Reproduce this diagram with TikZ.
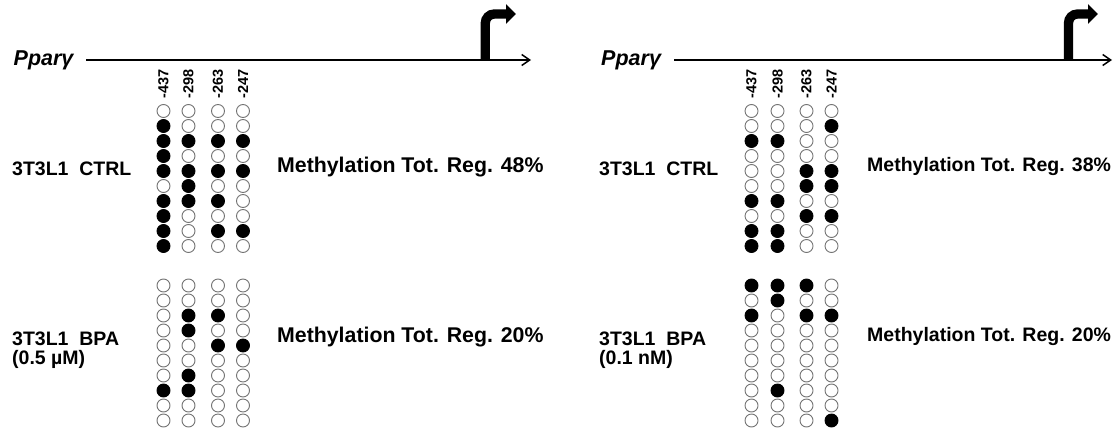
\documentclass[tikz,border=0pt]{standalone}
\usepackage{fontspec}
\setmainfont{Liberation Sans}
\usetikzlibrary{arrows.meta}

% one column of CpG sites, 1 = methylated
\newcommand{\cpgcolumn}[4]{%
  \foreach \m [count=\i] in {#4} {%
    \ifnum\m=1
      \node [metcpg] (#1-\i) at (#2,#3+15*\i-15) {};
    \else
      \node [uncpg] (#1-\i) at (#2,#3+15*\i-15) {};
    \fi
  }}

\begin{document}
\begin{tikzpicture}[x=1pt,y=-1pt]
            \tikzstyle{every node}=[font=\fontsize{19.5}{19}\selectfont\bfseries, inner sep=0pt]
            \tikzstyle{gname}=[anchor=base west, font=\fontsize{21.5}{21}\selectfont\bfseries\itshape]
            \tikzstyle{metleft}=[anchor=base west, font=\fontsize{21.3}{21}\selectfont\bfseries]
            \tikzstyle{site}=[font=\fontsize{14.5}{14}\selectfont\bfseries, rotate=90, anchor=west]
            \tikzstyle{uncpg}=[circle, minimum size=13pt, draw=black!55, line width=0.9pt, fill=white]
            \tikzstyle{metcpg}=[uncpg, draw=black, fill=black]
            \tikzstyle{gene}=[line width=1.5pt, -{Straight Barb[length=8pt,width=11pt]}]
            \tikzstyle{tss}=[line width=9.3pt, rounded corners=9pt, -{Triangle[length=10pt,width=19pt]}]
            \useasboundingbox (0,0) rectangle (1118,431);

            % left panel
            \node [gname] (pparL) at (13.5,65) {Pparγ};
            \coordinate (startL) at (86,60);
            \coordinate (endL) at (531,60);
            \coordinate (tssL) at (485.3,60);
            \coordinate (tipL) at (516,14);
            \draw [gene] (startL) -- (endL);
            \draw [tss] (tssL) |- (tipL);
            \foreach \x/\t [count=\k] in {163.5/-437,188.5/-298,218/-263,243/-247}
                \node [site] (posL\k) at (\x,98.5) {\t};
            \node [anchor=base west] (ctrlL) at (12,175.5) {3T3L1~~CTRL};
            \node [metleft] (metctrlL) at (277,172.5) {Methylation Tot. Reg. 48\%};
            \cpgcolumn{ctrlLa}{163.5}{111}{0,1,1,1,1,0,1,1,1,1}
            \cpgcolumn{ctrlLb}{188.5}{111}{0,0,1,0,1,1,1,0,0,0}
            \cpgcolumn{ctrlLc}{218}{111}{0,0,1,0,1,0,1,0,1,0}
            \cpgcolumn{ctrlLd}{243}{111}{0,0,1,0,1,0,0,0,1,0}
            \node [anchor=base west] (bpaL) at (12,345) {3T3L1~~BPA};
            \node [anchor=base west] (doseL) at (12,364) {(0.5 µM)};
            \node [metleft] (metbpaL) at (277,342) {Methylation Tot. Reg. 20\%};
            \cpgcolumn{bpaLa}{163.5}{285.5}{0,0,0,0,0,0,0,1,0,0}
            \cpgcolumn{bpaLb}{188.5}{285.5}{0,0,1,1,0,0,1,1,0,0}
            \cpgcolumn{bpaLc}{218}{285.5}{0,0,1,0,1,0,0,0,0,0}
            \cpgcolumn{bpaLd}{243}{285.5}{0,0,0,0,1,0,0,0,0,0}

            % right panel
            \node [gname] (pparR) at (601,65) {Pparγ};
            \coordinate (startR) at (674,60);
            \coordinate (endR) at (1112,60);
            \coordinate (tssR) at (1068.5,60);
            \coordinate (tipR) at (1098,14);
            \draw [gene] (startR) -- (endR);
            \draw [tss] (tssR) |- (tipR);
            \foreach \x/\t [count=\k] in {751.5/-437,777.5/-298,806.5/-263,831.5/-247}
                \node [site] (posR\k) at (\x,98.5) {\t};
            \node [anchor=base west] (ctrlR) at (599,175.5) {3T3L1~~CTRL};
            \node [anchor=base west] (metctrlR) at (867,171.7) {Methylation Tot. Reg. 38\%};
            \cpgcolumn{ctrlRa}{751.5}{111}{0,0,1,0,0,0,1,0,1,1}
            \cpgcolumn{ctrlRb}{777.5}{111}{0,0,1,0,0,0,1,0,1,1}
            \cpgcolumn{ctrlRc}{806.5}{111}{0,0,0,0,1,1,0,1,0,0}
            \cpgcolumn{ctrlRd}{831.5}{111}{0,1,0,0,1,1,0,1,0,0}
            \node [anchor=base west] (bpaR) at (599,345) {3T3L1~~BPA};
            \node [anchor=base west] (doseR) at (599,364) {(0.1 nM)};
            \node [anchor=base west] (metbpaR) at (867,341.5) {Methylation Tot. Reg. 20\%};
            \cpgcolumn{bpaRa}{751.5}{285.5}{1,0,1,0,0,0,0,0,0,0}
            \cpgcolumn{bpaRb}{777.5}{285.5}{1,1,0,0,0,0,0,1,0,0}
            \cpgcolumn{bpaRc}{806.5}{285.5}{1,0,1,0,0,0,0,0,0,0}
            \cpgcolumn{bpaRd}{831.5}{285.5}{0,0,1,0,0,0,0,0,0,1}
        \end{tikzpicture}
\end{document}
